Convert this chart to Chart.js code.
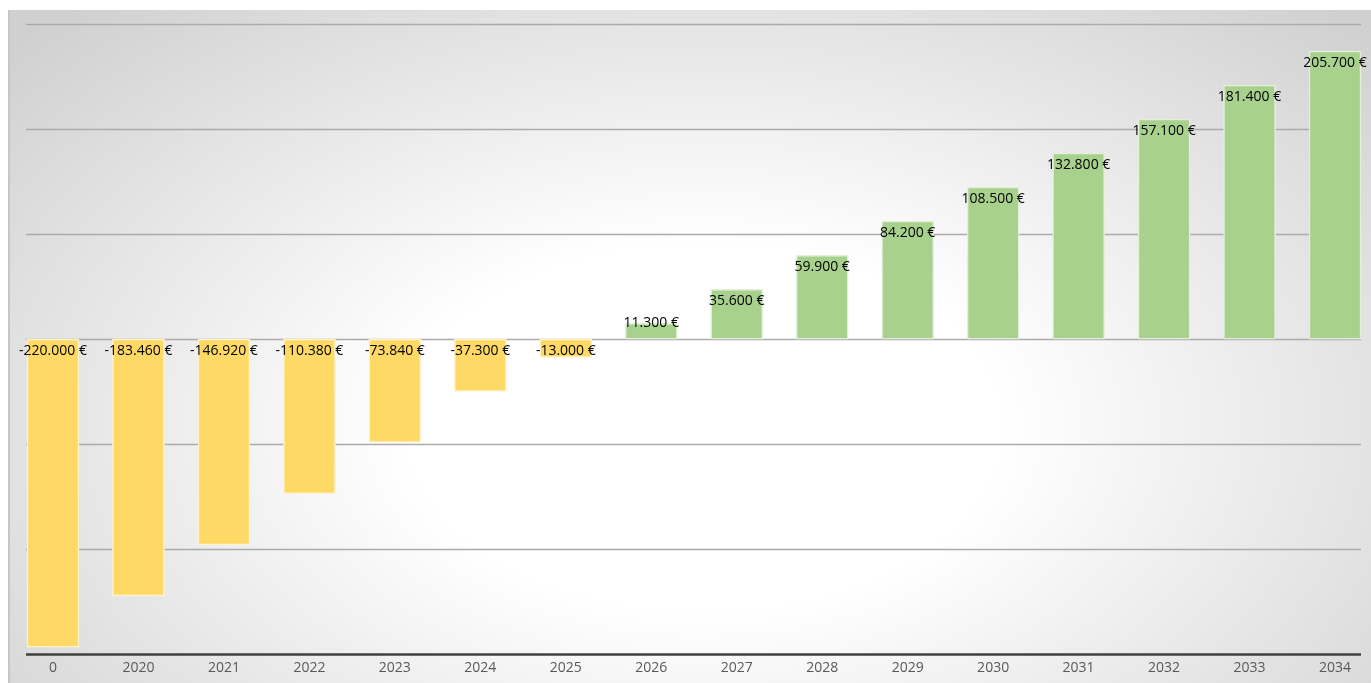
<!DOCTYPE html>
<html>
<head>
<meta charset="utf-8">
<script src="https://cdn.jsdelivr.net/npm/chart.js@4/dist/chart.umd.min.js"></script>
<style>
  html, body { margin: 0; padding: 0; background: #ffffff; overflow: hidden; }
  #bg {
    position: absolute; left: 8px; top: 10px; width: 1363px; height: 673px;
    background: radial-gradient(ellipse 68% 85% at 51% 62%, #ffffff 0%, #ffffff 32%, #d0d0d0 100%);
    border-left: 2px solid #c6c6c6;
    box-sizing: border-box;
  }
  #wrap { position: absolute; left: 0; top: 0; width: 1371px; height: 683px; }
</style>
</head>
<body>
<div id="bg"></div>
<div id="wrap"><canvas id="cashChart" width="1371" height="683"></canvas></div>
<script>
// kumulierter Cashflow
const years = ['0', '2020', '2021', '2022', '2023', '2024', '2025', '2026', '2027',
               '2028', '2029', '2030', '2031', '2032', '2033', '2034'];
const cashflow = [-220000, -183460, -146920, -110380, -73840, -37300, -13000, 11300,
                  35600, 59900, 84200, 108500, 132800, 157100, 181400, 205700];
const yTicks = { min: -225000, max: 225000, step: 75000 };

function formatEuro(v) {
    const s = Math.abs(v).toString().replace(/\B(?=(\d{3})+(?!\d))/g, '.');
    return (v < 0 ? '-' : '') + s + ' €';
}

// gridlines drawn a bit wider than the bar area, like the original
const gridPlugin = {
    id: 'gridPlugin',
    beforeDatasetsDraw(chart) {
        const { ctx, chartArea, scales } = chart;
        const y = scales.y;
        const x0 = chartArea.left - 27;
        const x1 = chartArea.right + 26;
        ctx.save();
        y.ticks.forEach(t => {
            const py = Math.round(y.getPixelForValue(t.value)) + 0.5;
            if (t.value === yTicks.min) {
                ctx.strokeStyle = '#404040';
                ctx.lineWidth = 2.5;
            } else {
                ctx.strokeStyle = '#ababab';
                ctx.lineWidth = 1.6;
            }
            ctx.beginPath();
            ctx.moveTo(x0, py);
            ctx.lineTo(x1, py);
            ctx.stroke();
        });
        ctx.restore();
    }
};

const labelPlugin = {
    id: 'labelPlugin',
    afterDatasetsDraw(chart) {
        const { ctx } = chart;
        const meta = chart.getDatasetMeta(0);
        ctx.save();
        ctx.font = '14px "Open Sans", sans-serif';
        ctx.fillStyle = '#000000';
        ctx.textAlign = 'center';
        ctx.textBaseline = 'middle';
        meta.data.forEach((bar, i) => {
            const v = cashflow[i];
            let py;
            if (v < 0) {
                py = bar.base + 12;
            } else {
                py = Math.min(bar.y + 12, bar.base - 16);
            }
            ctx.fillText(formatEuro(v), bar.x, py);
        });
        ctx.restore();
    }
};

new Chart(document.getElementById('cashChart'), {
    type: 'bar',
    data: {
        labels: years,
        datasets: [{
            data: cashflow,
            backgroundColor: cashflow.map(v => v < 0 ? '#FFD966' : '#A9D18E'),
            borderColor: cashflow.map(v => v < 0 ? '#FFF2CC' : '#E2F0D9'),
            borderWidth: 1.5,
            borderSkipped: false,
            barThickness: 52,
            clip: false
        }]
    },
    options: {
        responsive: false,
        animation: false,
        layout: {
            padding: { left: 53, right: 36, top: 24, bottom: 2 }
        },
        plugins: {
            legend: { display: false },
            tooltip: { enabled: false }
        },
        scales: {
            x: {
                offset: false,
                grid: { display: false, drawTicks: false },
                border: { display: false },
                ticks: {
                    color: '#595959',
                    font: { family: '"Open Sans", sans-serif', size: 14 },
                    padding: 5,
                    maxRotation: 0,
                    autoSkip: false
                }
            },
            y: {
                display: false,
                min: yTicks.min,
                max: yTicks.max,
                ticks: { stepSize: yTicks.step }
            }
        }
    },
    plugins: [gridPlugin, labelPlugin]
});
</script>
</body>
</html>
